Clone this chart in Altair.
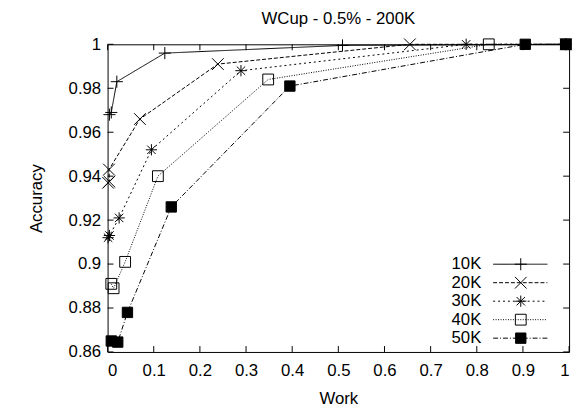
import altair as alt
import pandas as pd

series = ["10K", "20K", "30K", "40K", "50K"]

work_10k = [0.004, 0.008, 0.020, 0.124, 0.509, 0.993]
acc_10k = [0.968, 0.969, 0.983, 0.996, 0.9995, 1.0]

work_20k = [0.001, 0.004, 0.003, 0.070, 0.239, 0.655, 0.993]
acc_20k = [0.937, 0.9375, 0.943, 0.966, 0.991, 1.0, 1.0]

work_30k = [0.001, 0.004, 0.025, 0.095, 0.289, 0.777, 0.993]
acc_30k = [0.912, 0.913, 0.921, 0.952, 0.988, 1.0, 1.0]

work_40k = [0.008, 0.013, 0.038, 0.109, 0.348, 0.826, 0.993]
acc_40k = [0.891, 0.889, 0.901, 0.940, 0.984, 1.0, 1.0]

work_50k = [0.008, 0.022, 0.043, 0.138, 0.395, 0.905, 0.993]
acc_50k = [0.865, 0.8645, 0.878, 0.926, 0.981, 1.0, 1.0]

x_ticks = [0, 0.1, 0.2, 0.3, 0.4, 0.5, 0.6, 0.7, 0.8, 0.9, 1.0]
y_ticks = [0.86, 0.88, 0.90, 0.92, 0.94, 0.96, 0.98, 1.0]

rows = []
for name, ws, acs in zip(series, [work_10k, work_20k, work_30k, work_40k, work_50k],
                         [acc_10k, acc_20k, acc_30k, acc_40k, acc_50k]):
    for i, (w, a) in enumerate(zip(ws, acs)):
        rows.append({"series": name, "work": w, "acc": a, "idx": i})
df = pd.DataFrame(rows)
xt = pd.DataFrame({"work": x_ticks})
yt = pd.DataFrame({"acc": y_ticks})
leg = pd.DataFrame({"series": series})

W, H = 468, 312
FONT = "Liberation Sans"
FS = 17

xscale = alt.Scale(domain=[0, 1], nice=False, zero=False)
yscale = alt.Scale(domain=[0.86, 1.0], nice=False, zero=False)
axis_style = dict(ticks=False, domain=False, grid=False, format="~g",
                  labelFont=FONT, labelFontSize=FS, labelColor="black",
                  titleFont=FONT, titleFontSize=FS, titleFontWeight="normal", titleColor="black")
xaxis = alt.Axis(title="Work", values=x_ticks, labelPadding=11, titlePadding=12, **axis_style)
yaxis = alt.Axis(title="Accuracy", values=y_ticks, labelPadding=7, titlePadding=23, **axis_style)
X = alt.X("work:Q", scale=xscale, axis=xaxis)
Y = alt.Y("acc:Q", scale=yscale, axis=yaxis)

dash_scale = alt.Scale(domain=series, range=[[1, 0], [4, 2], [2, 3], [1, 1.5], [5, 2, 1, 2]])
shape_scale = alt.Scale(domain=series, range=[
    "M-1,0L1,0M0,-1L0,1",
    "M-1,-1L1,1M-1,1L1,-1",
    "M-1,0L1,0M0,-1L0,1M-0.75,-0.75L0.75,0.75M-0.75,0.75L0.75,-0.75",
    "square",
    "square",
])
size_scale = alt.Scale(domain=series, range=[150, 110, 140, 110, 110])
fill_cond = alt.condition("datum.series == '50K'", alt.value("black"), alt.value("transparent"))

base = alt.Chart(df)
lines = base.mark_line(color="black", strokeWidth=1).encode(
    x=X, y=Y,
    strokeDash=alt.StrokeDash("series:N", scale=dash_scale, legend=None),
    detail="series:N",
    order="idx:Q",
)
points = base.mark_point(color="black", strokeWidth=1, opacity=1).encode(
    x=X, y=Y,
    shape=alt.Shape("series:N", scale=shape_scale, legend=None),
    size=alt.Size("series:N", scale=size_scale, legend=None),
    fill=fill_cond,
)

xt_bottom = alt.Chart(xt).mark_rule(color="black").encode(x=X, y=alt.value(H), y2=alt.value(H - 6))
xt_top = alt.Chart(xt).mark_rule(color="black").encode(x=X, y=alt.value(0), y2=alt.value(6))
yt_left = alt.Chart(yt).mark_rule(color="black").encode(y=Y, x=alt.value(0), x2=alt.value(6))
yt_right = alt.Chart(yt).mark_rule(color="black").encode(y=Y, x=alt.value(W), x2=alt.value(W - 6))

main = alt.layer(lines, points, xt_bottom, xt_top, yt_left, yt_right)

leg_y = alt.Y("series:N", scale=alt.Scale(type="point", domain=series, range=[223, 298], padding=0), axis=None)
leg_text = alt.Chart(leg).mark_text(align="right", baseline="middle", fontSize=FS, font=FONT).encode(
    x=alt.value(379), y=leg_y, text="series:N")
leg_rule = alt.Chart(leg).mark_rule(color="black", strokeWidth=1).encode(
    x=alt.value(391), x2=alt.value(446), y=leg_y,
    strokeDash=alt.StrokeDash("series:N", scale=dash_scale, legend=None))
leg_pts = alt.Chart(leg).mark_point(color="black", strokeWidth=1, opacity=1).encode(
    x=alt.value(419), y=leg_y,
    shape=alt.Shape("series:N", scale=shape_scale, legend=None),
    size=alt.Size("series:N", scale=size_scale, legend=None),
    fill=fill_cond,
)
legend = alt.layer(leg_text, leg_rule, leg_pts)

chart = alt.layer(main, legend).resolve_scale(y="independent").properties(
    width=W, height=H,
    background="white",
    title=alt.Title("WCup - 0.5% - 200K", fontSize=FS, font=FONT, fontWeight="normal",
                    anchor="middle", offset=8, color="black"),
    autosize=alt.AutoSizeParams(type="none"),
    padding={"left": 101, "top": 34, "right": 6, "bottom": 55},
).configure_view(stroke="black", strokeWidth=1)

chart.save("out.html", embed_options={"renderer": "svg", "actions": False})
